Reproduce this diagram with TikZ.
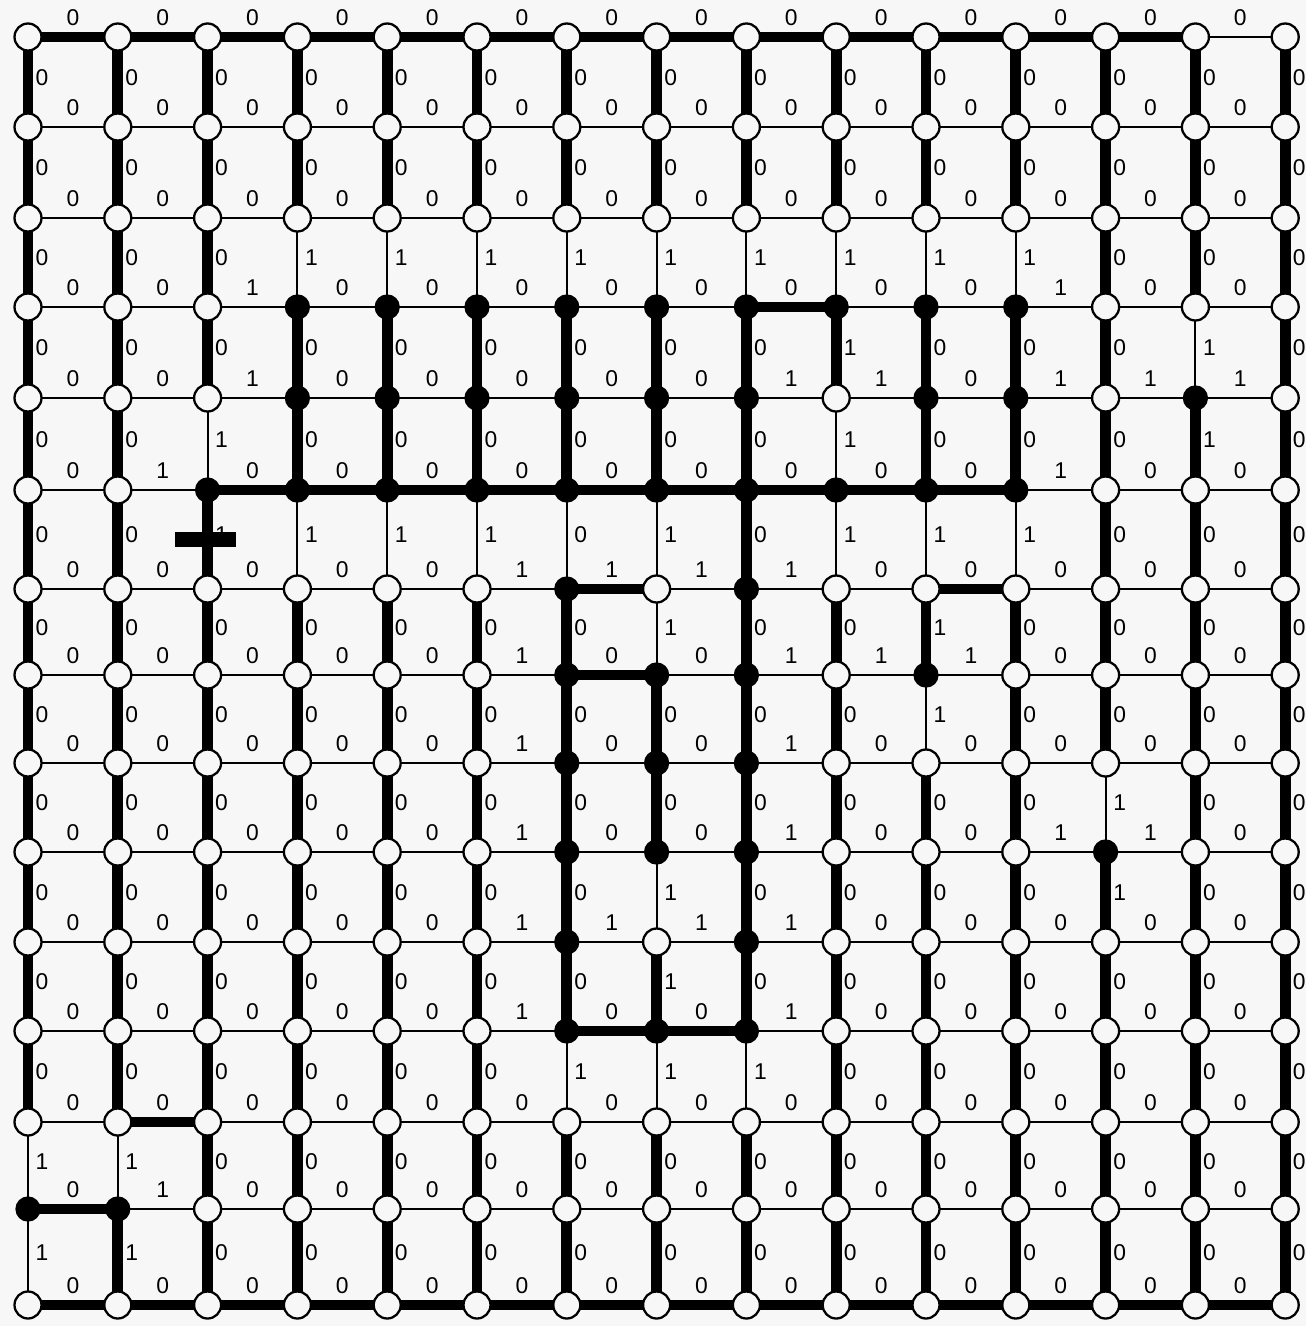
\documentclass[tikz,border=0pt]{standalone}
\usepackage{fontspec}
\setmainfont{Liberation Sans}
\usetikzlibrary{backgrounds}
\definecolor{paper}{gray}{0.97}

\begin{document}
\begin{tikzpicture}[x=0.02cm, y=-0.02cm,
    site o/.style={circle, draw, line width=1.3pt, fill=paper, minimum size=0.54cm, inner sep=0pt},
    site x/.style={circle, draw, line width=1pt, fill=black, minimum size=0.47cm, inner sep=0pt},
    bond W/.style={line width=6.2pt},
    bond N/.style={line width=1.1pt},
    val/.style={font=\fontsize{13}{15}\selectfont, inner sep=0pt},
    hval/.style={val, midway, yshift=0.38cm},
    vval/.style={val, pos=0.45, xshift=0.28cm},
    cutbar/.style={line width=8pt}]

    \useasboundingbox (0,0) rectangle (1306,1326);

    % --- sites: o = empty, x = occupied ---
    \foreach \ri/\py/\sites in {
        0/37/{o,o,o,o,o,o,o,o,o,o,o,o,o,o,o},
        1/127/{o,o,o,o,o,o,o,o,o,o,o,o,o,o,o},
        2/218/{o,o,o,o,o,o,o,o,o,o,o,o,o,o,o},
        3/307/{o,o,o,x,x,x,x,x,x,x,x,x,o,o,o},
        4/398/{o,o,o,x,x,x,x,x,x,o,x,x,o,x,o},
        5/490/{o,o,x,x,x,x,x,x,x,x,x,x,o,o,o},
        6/589/{o,o,o,o,o,o,x,o,x,o,o,o,o,o,o},
        7/675/{o,o,o,o,o,o,x,x,x,o,x,o,o,o,o},
        8/763/{o,o,o,o,o,o,x,x,x,o,o,o,o,o,o},
        9/852/{o,o,o,o,o,o,x,x,x,o,o,o,x,o,o},
        10/942/{o,o,o,o,o,o,x,o,x,o,o,o,o,o,o},
        11/1031/{o,o,o,o,o,o,x,x,x,o,o,o,o,o,o},
        12/1122/{o,o,o,o,o,o,o,o,o,o,o,o,o,o,o},
        13/1209/{x,x,o,o,o,o,o,o,o,o,o,o,o,o,o},
        14/1305/{o,o,o,o,o,o,o,o,o,o,o,o,o,o,o}}
        \foreach \s [count=\ci from 0] in \sites
            \node[site \s] (n-\ri-\ci) at ({28+89.8*\ci},\py) {};

    % --- bonds and their values, under the sites ---
    \begin{scope}[on background layer]
        \fill[paper] (0,0) rectangle (1306,1326);

        % horizontal bonds
        \foreach \ri/\bonds in {
            0/{W/0,W/0,W/0,W/0,W/0,W/0,W/0,W/0,W/0,W/0,W/0,W/0,W/0,N/0},
            1/{N/0,N/0,N/0,N/0,N/0,N/0,N/0,N/0,N/0,N/0,N/0,N/0,N/0,N/0},
            2/{N/0,N/0,N/0,N/0,N/0,N/0,N/0,N/0,N/0,N/0,N/0,N/0,N/0,N/0},
            3/{N/0,N/0,N/1,N/0,N/0,N/0,N/0,N/0,W/0,N/0,N/0,N/1,N/0,N/0},
            4/{N/0,N/0,N/1,N/0,N/0,N/0,N/0,N/0,N/1,N/1,N/0,N/1,N/1,N/1},
            5/{N/0,N/1,W/0,W/0,W/0,W/0,W/0,W/0,W/0,W/0,W/0,N/1,N/0,N/0},
            6/{N/0,N/0,N/0,N/0,N/0,N/1,W/1,N/1,N/1,N/0,W/0,N/0,N/0,N/0},
            7/{N/0,N/0,N/0,N/0,N/0,N/1,W/0,N/0,N/1,N/1,N/1,N/0,N/0,N/0},
            8/{N/0,N/0,N/0,N/0,N/0,N/1,N/0,N/0,N/1,N/0,N/0,N/0,N/0,N/0},
            9/{N/0,N/0,N/0,N/0,N/0,N/1,N/0,N/0,N/1,N/0,N/0,N/1,N/1,N/0},
            10/{N/0,N/0,N/0,N/0,N/0,N/1,N/1,N/1,N/1,N/0,N/0,N/0,N/0,N/0},
            11/{N/0,N/0,N/0,N/0,N/0,N/1,W/0,W/0,N/1,N/0,N/0,N/0,N/0,N/0},
            12/{N/0,W/0,N/0,N/0,N/0,N/0,N/0,N/0,N/0,N/0,N/0,N/0,N/0,N/0},
            13/{W/0,N/1,N/0,N/0,N/0,N/0,N/0,N/0,N/0,N/0,N/0,N/0,N/0,N/0},
            14/{W/0,W/0,W/0,W/0,W/0,W/0,W/0,W/0,W/0,W/0,W/0,W/0,W/0,W/0}}
            \foreach \w/\lab [count=\ci from 0] in \bonds {
                \pgfmathtruncatemacro\cn{\ci+1}
                \draw[bond \w] (n-\ri-\ci.center) -- node[hval] {\lab} (n-\ri-\cn.center);
            }

        % vertical bonds
        \foreach \ri/\bonds in {
            0/{W/0,W/0,W/0,W/0,W/0,W/0,W/0,W/0,W/0,W/0,W/0,W/0,W/0,W/0,W/0},
            1/{W/0,W/0,W/0,W/0,W/0,W/0,W/0,W/0,W/0,W/0,W/0,W/0,W/0,W/0,W/0},
            2/{W/0,W/0,W/0,N/1,N/1,N/1,N/1,N/1,N/1,N/1,N/1,N/1,W/0,W/0,W/0},
            3/{W/0,W/0,W/0,W/0,W/0,W/0,W/0,W/0,W/0,W/1,W/0,W/0,W/0,N/1,W/0},
            4/{W/0,W/0,N/1,W/0,W/0,W/0,W/0,W/0,W/0,N/1,W/0,W/0,W/0,W/1,W/0},
            5/{W/0,W/0,W/1,N/1,N/1,N/1,N/0,N/1,W/0,N/1,N/1,N/1,W/0,W/0,W/0},
            6/{W/0,W/0,W/0,W/0,W/0,W/0,W/0,N/1,W/0,W/0,W/1,W/0,W/0,W/0,W/0},
            7/{W/0,W/0,W/0,W/0,W/0,W/0,W/0,W/0,W/0,W/0,N/1,W/0,W/0,W/0,W/0},
            8/{W/0,W/0,W/0,W/0,W/0,W/0,W/0,W/0,W/0,W/0,W/0,W/0,N/1,W/0,W/0},
            9/{W/0,W/0,W/0,W/0,W/0,W/0,W/0,N/1,W/0,W/0,W/0,W/0,W/1,W/0,W/0},
            10/{W/0,W/0,W/0,W/0,W/0,W/0,W/0,W/1,W/0,W/0,W/0,W/0,W/0,W/0,W/0},
            11/{W/0,W/0,W/0,W/0,W/0,W/0,N/1,N/1,N/1,W/0,W/0,W/0,W/0,W/0,W/0},
            12/{N/1,N/1,W/0,W/0,W/0,W/0,W/0,W/0,W/0,W/0,W/0,W/0,W/0,W/0,W/0},
            13/{N/1,W/1,W/0,W/0,W/0,W/0,W/0,W/0,W/0,W/0,W/0,W/0,W/0,W/0,W/0}}
            \foreach \w/\lab [count=\ci from 0] in \bonds {
                \pgfmathtruncatemacro\rn{\ri+1}
                \draw[bond \w] (n-\ri-\ci.center) -- node[vval] {\lab} (n-\rn-\ci.center);
            }
    \end{scope}

    % --- cut mark on the bond below site (5,2) ---
    \path (n-5-2.center) -- (n-6-2.center) coordinate[midway] (cut);
    \draw[cutbar] ([xshift=-0.66cm]cut) -- ([xshift=0.56cm]cut);
\end{tikzpicture}
\end{document}
